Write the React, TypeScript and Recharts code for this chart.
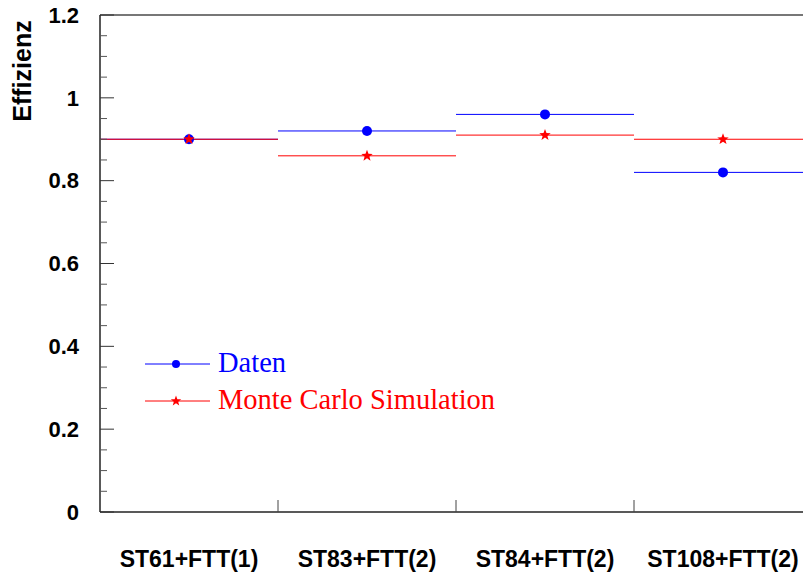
import { ComposedChart, Scatter, ErrorBar, XAxis, YAxis, Legend } from 'recharts'

const categories = ['ST61+FTT(1)', 'ST83+FTT(2)', 'ST84+FTT(2)', 'ST108+FTT(2)']
const daten = [0.9, 0.92, 0.96, 0.82]
const monteCarlo = [0.9, 0.86, 0.91, 0.9]
const majorTicks = [0, 0.2, 0.4, 0.6, 0.8, 1, 1.2]
const minorTicks = [0.05, 0.1, 0.15, 0.25, 0.3, 0.35, 0.45, 0.5, 0.55, 0.65, 0.7, 0.75, 0.85, 0.9, 0.95, 1.05, 1.1, 1.15]
const binEdges = [1, 2, 3]
const labelTicks = [0.5, 1.5, 2.5, 3.5]

const BLUE = '#0000ff'
const RED = '#ff0000'
const SANS = '"Liberation Sans", Arial, Helvetica, sans-serif'
const SERIF = '"Liberation Serif", "Times New Roman", serif'

// each bin spans one category, value drawn as a horizontal bar of half-width 0.5
const datenRows = categories.map((c, i) => ({ x: i + 0.5, y: daten[i], ex: 0.5, name: c }))
const mcRows = categories.map((c, i) => ({ x: i + 0.5, y: monteCarlo[i], ex: 0.5, name: c }))

const allYTicks = [...majorTicks, ...minorTicks].sort((a, b) => a - b)
const allXTicks = [...labelTicks, ...binEdges].sort((a, b) => a - b)

const starPath = (cx: number, cy: number, ro: number, ri: number) => {
  let d = ''
  for (let k = 0; k < 10; k++) {
    const r = k % 2 === 0 ? ro : ri
    const a = -Math.PI / 2 + (k * Math.PI) / 5
    d += (k === 0 ? 'M' : 'L') + (cx + r * Math.cos(a)).toFixed(2) + ',' + (cy + r * Math.sin(a)).toFixed(2)
  }
  return d + 'Z'
}

const Dot = (p: any) => <circle cx={p.cx} cy={p.cy} r={5} fill={BLUE} />
const Star = (p: any) => <path d={starPath(p.cx, p.cy, 6, 2.5)} fill={RED} />

const Y_GAP = 21
const X_GAP = 39

// label for majors, inward tick line for every tick
const YTick = ({ x, y, payload }: any) => {
  const v = payload.value
  const isMajor = majorTicks.some((m) => Math.abs(m - v) < 1e-6)
  const ax = x + Y_GAP
  return (
    <g>
      <line x1={ax} x2={ax + (isMajor ? 14 : 7)} y1={y} y2={y} stroke={isMajor ? '#333' : '#555'} strokeWidth={1} />
      {isMajor && (
        <text x={x} y={y} dy="0.355em" textAnchor="end" fill="#000" fontSize={22} fontWeight="bold" fontFamily={SANS}>
          {String(v)}
        </text>
      )}
    </g>
  )
}

const XTick = ({ x, y, payload }: any) => {
  const v = payload.value
  const isEdge = binEdges.includes(v)
  const ay = y - X_GAP
  if (isEdge) return <line x1={x} x2={x} y1={ay} y2={ay - 12} stroke="#444" strokeWidth={1} />
  return (
    <text x={x} y={y} dy="0.71em" textAnchor="middle" fill="#000" fontSize={23} fontWeight="bold" fontFamily={SANS}>
      {categories[Math.floor(v)]}
    </text>
  )
}

const series = [
  { name: 'Daten', color: BLUE, marker: 'dot' },
  { name: 'Monte Carlo Simulation', color: RED, marker: 'star' },
]

const LegendBox = () => (
  <svg width={400} height={80}>
    {series.map((s, i) => {
      const y = 19 + i * 37
      return (
        <g key={s.name}>
          <line x1={5} x2={70} y1={y} y2={y} stroke={s.color} strokeWidth={1} />
          {s.marker === 'dot'
            ? <circle cx={36} cy={y} r={4} fill={s.color} />
            : <path d={starPath(36, y, 5.5, 2.3)} fill={s.color} />}
          <text x={78} y={y + 8} fill={s.color} fontFamily={SERIF} fontSize={28.5}>{s.name}</text>
        </g>
      )
    })}
  </svg>
)

export default function App() {
  return (
    <div style={{ position: 'absolute', left: 0, top: 0, width: 803, height: 573, overflow: 'hidden', background: '#fff' }}>
      <ComposedChart width={830} height={573} margin={{ top: 15, right: 18, bottom: 0, left: 0 }}>
        <XAxis
          type="number"
          dataKey="x"
          domain={[0, 4]}
          ticks={allXTicks}
          interval={0}
          tick={XTick}
          tickLine={false}
          tickSize={0}
          tickMargin={X_GAP}
          height={61}
          axisLine={{ stroke: '#222', strokeWidth: 1.5 }}
        />
        <XAxis
          xAxisId="top"
          orientation="top"
          type="number"
          domain={[0, 4]}
          mirror
          tick={false}
          tickLine={false}
          axisLine={{ stroke: '#777', strokeWidth: 2 }}
        />
        <YAxis
          type="number"
          dataKey="y"
          domain={[0, 1.2]}
          ticks={allYTicks}
          interval={0}
          width={100}
          tickLine={false}
          tickSize={0}
          tickMargin={Y_GAP}
          tick={YTick}
          axisLine={{ stroke: '#222', strokeWidth: 1.5 }}
          label={{
            content: () => (
              <text transform="translate(31,71) rotate(-90)" textAnchor="middle" fontFamily={SANS} fontWeight="bold" fontSize={25} fill="#000">
                Effizienz
              </text>
            ),
          }}
        />
        <Legend
          layout="vertical"
          align="center"
          verticalAlign="middle"
          content={() => <LegendBox />}
          wrapperStyle={{ position: 'absolute', left: 140, top: 345, width: 400, height: 80 }}
        />
        <Scatter name="Daten" data={datenRows} dataKey="y" fill={BLUE} shape={Dot} isAnimationActive={false}>
          <ErrorBar dataKey="ex" direction="x" width={0} stroke={BLUE} strokeWidth={1} isAnimationActive={false} />
        </Scatter>
        <Scatter name="Monte Carlo Simulation" data={mcRows} dataKey="y" fill={RED} shape={Star} isAnimationActive={false}>
          <ErrorBar dataKey="ex" direction="x" width={0} stroke={RED} strokeWidth={1} isAnimationActive={false} />
        </Scatter>
      </ComposedChart>
    </div>
  )
}
